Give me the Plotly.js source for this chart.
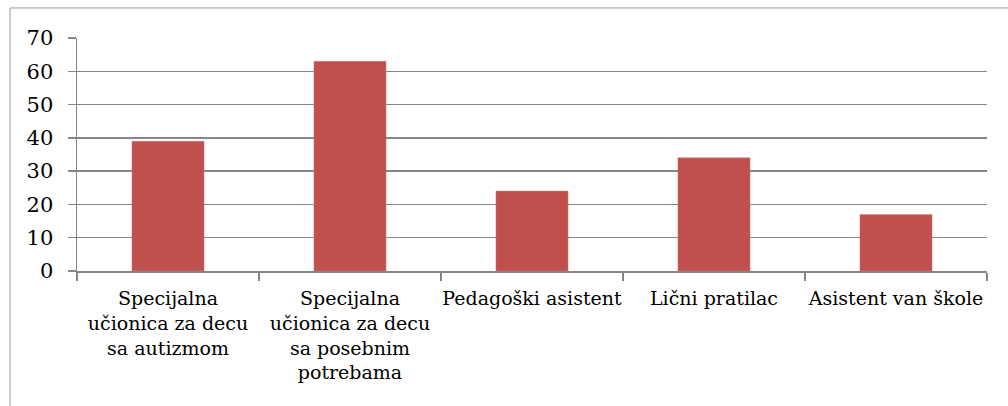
<!DOCTYPE html>
<html><head><meta charset="utf-8">
<script src="https://cdn.plot.ly/plotly-3.0.1.min.js"></script>
<style>html,body{margin:0;padding:0;background:#fff;}#chart{width:1008px;height:406px;}</style>
</head><body><div id="chart"></div>
<script>
const categories = [
  "Specijalna<br>učionica za decu<br>sa autizmom",
  "Specijalna<br>učionica za decu<br>sa posebnim<br>potrebama",
  "Pedagoški asistent",
  "Lični pratilac",
  "Asistent van škole"
];
const values = [39, 63, 24, 34, 17];
const yTicks = [0, 10, 20, 30, 40, 50, 60, 70];

const trace = {
  type: 'bar', x: categories, y: values,
  marker: {color: '#C0504D', line: {color: '#D07C7A', width: 0.5}},
  hoverinfo: 'none'
};
const xfont = {family: 'DejaVu Serif', size: 19, color: '#000'};
const yfont = {family: 'DejaVu Serif', size: 21, color: '#000'};
const layout = {
  width: 1008, height: 406,
  margin: {l: 77, r: 21, t: 38, b: 135},
  paper_bgcolor: '#fff', plot_bgcolor: '#fff',
  font: xfont,
  showlegend: false,
  bargap: 0.604,
  xaxis: {
    type: 'category', tickson: 'boundaries', ticks: 'outside', ticklen: 8,
    tickcolor: '#868686', tickwidth: 1.5,
    showline: true, linecolor: '#868686', linewidth: 1.5,
    showgrid: false, tickangle: 0, tickfont: xfont, automargin: false,
    ticklabelstandoff: 10
  },
  yaxis: {
    range: [0, 70], tickvals: yTicks, ticktext: yTicks.map(String),
    ticks: 'outside', ticklen: 8, tickcolor: '#868686', tickwidth: 1.5,
    showline: true, linecolor: '#868686', linewidth: 1.5,
    showgrid: true, gridcolor: '#868686', gridwidth: 1.5,
    zeroline: false, tickfont: yfont, automargin: false, ticklabelstandoff: 10
  },
  shapes: [{
    type: 'rect', xref: 'paper', yref: 'paper', layer: 'below',
    x0: (10 - 77) / 910, x1: 1.2, y0: -1, y1: (270.7 - 8) / 232.7,
    line: {color: '#9a9a9a', width: 1}, fillcolor: 'rgba(0,0,0,0)'
  }]
};
Plotly.newPlot('chart', [trace], layout, {displayModeBar: false, staticPlot: true});
</script></body></html>
